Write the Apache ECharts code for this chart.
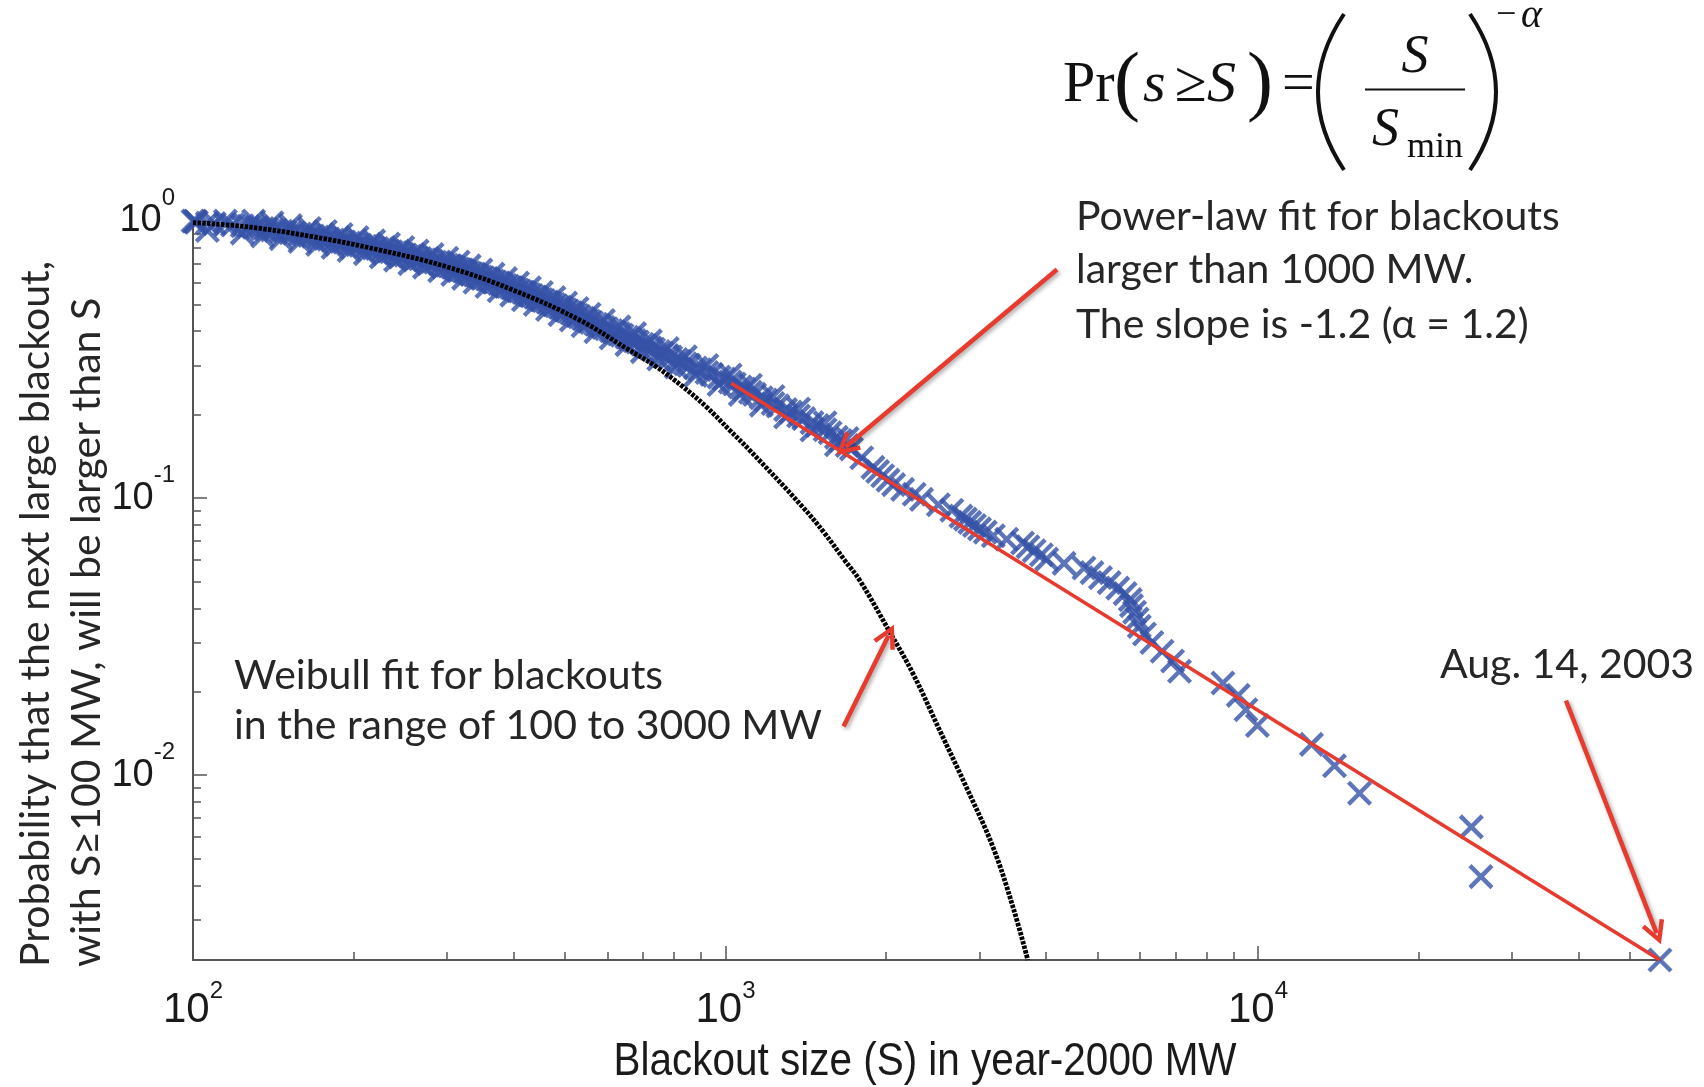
<!DOCTYPE html>
<html>
<head>
<meta charset="utf-8">
<script src="https://cdn.jsdelivr.net/npm/echarts@6/dist/echarts.min.js"></script>
<style>
html,body{margin:0;padding:0;background:#fff;}
#chart{width:1704px;height:1087px;}
</style>
</head>
<body>
<div id="chart"></div>
<script>
// ---- data ----
// blackout sizes (MW) and exceedance probability, read along the marker band
const blackoutSizeMW = [
  100, 101.5, 109.7, 118.6, 127.1, 131.9, 137.3, 142.9, 148.7, 154.8,
  161.5, 168.0, 173.7, 179.6, 185.6, 192.4, 199.0, 206.2, 213.7, 221.5,
  228.5, 235.6, 243.1, 250.7, 258.5, 267.0, 275.4, 285.0, 294.4, 303.1,
  310.2, 317.7, 325.2, 333.4, 341.8, 350.8, 360.2, 369.7, 379.9, 390.4,
  400.9, 410.9, 421.5, 432.6, 443.8, 455.8, 468.2, 481.3, 493.8, 505.6,
  518.5, 531.6, 545.6, 560.2, 578.0, 597.6, 617.8, 639.5, 661.8, 683.6,
  707.3, 732.8, 760.2, 789.0, 820.3, 853.9, 894.7, 941.2, 993.1, 1038.8,
  1084.2, 1133.6, 1189.9, 1253.8, 1325.2, 1402.4, 1487.3, 1572.0, 1643.6, 1723.7,
  1802.2, 1891.6, 1930.4, 1973.5, 2019.2, 2068.7, 2150.8, 2261.5, 2334.0, 2509.9,
  2660.8, 2767.6, 2822.0, 2876.2, 2934.0, 2999.4, 3074.2, 3183.8, 3372.9, 3612.6,
  3697.9, 3798.3, 3918.4, 4009.7, 4323.0, 4712.1, 4877.8, 5060.6, 5254.6, 5453.6,
  5628.6, 5756.7, 5786.6, 5864.6, 5928.5, 5985.1, 6121.1, 6320.3, 6605.3, 6912.0,
  7121.6, 8592, 9180, 9490, 9974, 12600, 13920, 15510, 25150, 26220,
  56870
];
const probLarger = [
  1.0, 0.9892, 0.9785, 0.9677, 0.957, 0.9462, 0.9355, 0.9247, 0.914, 0.9032,
  0.8925, 0.8817, 0.871, 0.8602, 0.8495, 0.8387, 0.828, 0.8172, 0.8065, 0.7957,
  0.7849, 0.7742, 0.7634, 0.7527, 0.7419, 0.7312, 0.7204, 0.7097, 0.6989, 0.6882,
  0.6774, 0.6667, 0.6559, 0.6452, 0.6344, 0.6237, 0.6129, 0.6022, 0.5914, 0.5806,
  0.5699, 0.5591, 0.5484, 0.5376, 0.5269, 0.5161, 0.5054, 0.4946, 0.4839, 0.4731,
  0.4624, 0.4516, 0.4409, 0.4301, 0.4194, 0.4086, 0.3978, 0.3871, 0.3763, 0.3656,
  0.3548, 0.3441, 0.3333, 0.3226, 0.3118, 0.3011, 0.2903, 0.2796, 0.2688, 0.2581,
  0.2473, 0.2366, 0.2258, 0.2151, 0.2043, 0.1935, 0.1828, 0.172, 0.1613, 0.1505,
  0.1398, 0.129, 0.1247, 0.1204, 0.1161, 0.1118, 0.1075, 0.1032, 0.0989, 0.0946,
  0.0903, 0.086, 0.0839, 0.0817, 0.0796, 0.0774, 0.0753, 0.0731, 0.071, 0.0688,
  0.0667, 0.0645, 0.0624, 0.0602, 0.0581, 0.0559, 0.0538, 0.0516, 0.0495, 0.0473,
  0.0452, 0.043, 0.0409, 0.0387, 0.0366, 0.0344, 0.0323, 0.0301, 0.028, 0.0258,
  0.0237, 0.0215, 0.0194, 0.0172, 0.0151, 0.0129, 0.0108, 0.0086, 0.0065, 0.0043,
  0.00215
];
// further readings inside the dense part of the band (centre)
const bandSizeMW = [
  100.9, 106.4, 115.0, 123.7, 130.0, 135.1, 140.7, 146.4, 152.4, 158.8,
  165.4, 171.4, 177.2, 183.2, 189.7, 196.4, 203.3, 210.7, 218.4, 225.7,
  232.8, 240.1, 247.7, 255.4, 263.6, 272.0, 281.2, 290.6, 299.6, 307.4,
  314.7, 322.2, 330.1, 338.4, 347.2, 356.4, 365.9, 375.8, 386.2, 396.7,
  406.9, 417.3, 428.2, 439.3, 451.0, 463.2, 476.1, 488.8, 500.9, 513.3,
  526.4, 540.0, 554.4, 570.9, 589.8, 609.7, 630.8, 652.9, 674.9, 697.8,
  722.6, 749.2, 777.5, 807.8, 840.5, 878.4, 922.6, 972.3, 1020.5, 1066.0,
  1113.8, 1167.4, 1228.2, 1296.6, 1371.5, 1453.3, 1538.1, 1615.0, 1691.7
];
const bandProb = [
  0.9935, 0.9828, 0.972, 0.9613, 0.9505, 0.9398, 0.929, 0.9183, 0.9075, 0.8968,
  0.886, 0.8753, 0.8645, 0.8538, 0.843, 0.8323, 0.8215, 0.8108, 0.8, 0.7892,
  0.7785, 0.7677, 0.757, 0.7462, 0.7355, 0.7247, 0.714, 0.7032, 0.6925, 0.6817,
  0.671, 0.6602, 0.6495, 0.6387, 0.628, 0.6172, 0.6065, 0.5957, 0.5849, 0.5742,
  0.5634, 0.5527, 0.5419, 0.5312, 0.5204, 0.5097, 0.4989, 0.4882, 0.4774, 0.4667,
  0.4559, 0.4452, 0.4344, 0.4237, 0.4129, 0.4022, 0.3914, 0.3806, 0.3699, 0.3591,
  0.3484, 0.3376, 0.3269, 0.3161, 0.3054, 0.2946, 0.2839, 0.2731, 0.2624, 0.2516,
  0.2409, 0.2301, 0.2194, 0.2086, 0.1978, 0.1871, 0.1763, 0.1656, 0.1548
];
// readings along the upper edge of the dense band
const bandUpperSizeMW = [
  100.9, 115.0, 130.0, 140.7, 152.4, 165.4, 177.2, 189.7, 203.3, 218.4,
  232.8, 247.7, 263.6, 281.2, 299.6, 314.7, 330.1, 347.2, 365.9, 386.2,
  406.9, 428.2, 451.0, 476.1, 500.9, 526.4, 554.4, 589.8, 630.8, 674.9,
  722.6, 777.5, 840.5, 922.6, 1020.5, 1113.8, 1228.2, 1371.5, 1538.1, 1691.7
];
const bandUpperProb = [
  1.0, 1.0, 1.0, 0.985, 0.9623, 0.9394, 0.9165, 0.8938, 0.871, 0.848,
  0.8252, 0.8025, 0.7797, 0.757, 0.7341, 0.7114, 0.6885, 0.6657, 0.643, 0.62,
  0.5972, 0.5744, 0.5517, 0.5288, 0.506, 0.4832, 0.4605, 0.4376, 0.4149, 0.392,
  0.3693, 0.3464, 0.3237, 0.3008, 0.2781, 0.2553, 0.2325, 0.2097, 0.1869, 0.1641
];
// readings along the lower edge of the dense band
const bandLowerSizeMW = [
  106.4, 123.7, 135.1, 146.4, 158.8, 171.4, 183.2, 196.4, 210.7, 225.7,
  240.1, 255.4, 272.0, 290.6, 307.4, 322.2, 338.4, 356.4, 375.8, 396.7,
  417.3, 439.3, 463.2, 488.8, 513.3, 540.0, 570.9, 609.7, 652.9, 697.8,
  749.2, 807.8, 878.4, 972.3, 1066.0, 1167.4, 1296.6, 1453.3, 1615.0
];
const bandLowerProb = [
  0.9245, 0.9042, 0.884, 0.8638, 0.8436, 0.8233, 0.8031, 0.7829, 0.7627, 0.7423,
  0.7221, 0.7019, 0.6817, 0.6614, 0.6412, 0.621, 0.6008, 0.5805, 0.5603, 0.5401,
  0.5199, 0.4996, 0.4794, 0.4592, 0.439, 0.4187, 0.3985, 0.3783, 0.358, 0.3377,
  0.3175, 0.2973, 0.2771, 0.2568, 0.2366, 0.2164, 0.1962, 0.176, 0.1557
];
const weibullSizeMW = [100, 125.9, 167.9, 224.0, 299.0, 398.8, 532.1, 651.1, 741.1, 831.6,
  920.0, 1017.4, 1109.4, 1395, 1534, 1673, 1785, 2033, 2248, 2523, 2831, 3177, 3464, 3696];
const weibullProb = [0.986, 0.9537, 0.8777, 0.7858, 0.684, 0.5636, 0.4391, 0.3471, 0.2979, 0.2522,
  0.2136, 0.176, 0.149, 0.093, 0.0747, 0.0597, 0.0506, 0.0329, 0.0233, 0.01454, 0.00907, 0.00551, 0.00335, 0.00215];
const powerLawSizeMW = [1025, 56870];
const powerLawProb = [0.2595, 0.00215];

const xTickValues = [100, 1000, 10000];
const xTickExponents = ['2', '3', '4'];
const xMinorTicks = [200, 300, 400, 500, 600, 700, 800, 900,
  2000, 3000, 4000, 5000, 6000, 7000, 8000, 9000, 20000, 30000, 40000, 50000];
const yTickValues = [0.01, 0.1, 1];
const yTickExponents = ['-2', '-1', '0'];
const yMinorTicks = [0.003, 0.004, 0.005, 0.006, 0.007, 0.008, 0.009,
  0.02, 0.03, 0.04, 0.05, 0.06, 0.07, 0.08, 0.09,
  0.2, 0.3, 0.4, 0.5, 0.6, 0.7, 0.8, 0.9];

// annotation arrows: [tail, head] in data coordinates
const arrowTails = [[4193, 0.668], [1666, 0.01497], [37870, 0.01858]];
const arrowHeads = [[1680, 0.1528], [2024, 0.03189], [56030, 0.002689]];

// ---- chart ----
const BLUE = '#3653a8';
const RED = '#e63b2e';
const AXIS = '#555555';
const TEXT = '#262626';
const CROSS = 'path://M0,0L10,10M10,0L0,10';
const CHEVRON = 'path://M5,0L10,10L8.3,10.9L5,4.0L1.7,10.9L0,10Z';

const xMin = xTickValues[0];
const xMax = blackoutSizeMW[blackoutSizeMW.length - 1];
const yMin = probLarger[probLarger.length - 1];
const yMax = yTickValues[yTickValues.length - 1];

function zip(xs, ys) { return xs.map((s, i) => [s, ys[i]]); }
const points = zip(blackoutSizeMW, probLarger)
  .concat(zip(bandSizeMW, bandProb))
  .concat(zip(bandUpperSizeMW, bandUpperProb))
  .concat(zip(bandLowerSizeMW, bandLowerProb));
const weibull = zip(weibullSizeMW, weibullProb);
const powerLaw = zip(powerLawSizeMW, powerLawProb);

function findIdx(arr, v) {
  return arr.findIndex(t => Math.abs(t - v) <= Math.abs(t) * 1e-6);
}
function xLabel(v) {
  const k = findIdx(xTickValues, v);
  return k < 0 ? '' : '{b|10}{s|' + xTickExponents[k] + '}';
}
function yLabel(v) {
  const k = findIdx(yTickValues, v);
  return k < 0 ? '' : '{b|10}{s|' + yTickExponents[k] + '}';
}

const xBase = {type: 'log', logBase: 10, min: xMin, max: xMax, position: 'bottom', gridIndex: 0,
  splitLine: {show: false}, minorTick: {show: false}};
const yBase = {type: 'log', logBase: 10, min: yMin, max: yMax, position: 'left', gridIndex: 0,
  splitLine: {show: false}, minorTick: {show: false}};

function txt(x, y, text, font, extra) {
  return {
    type: 'text', x: x, y: y, silent: true, z: 100,
    style: Object.assign({text: text, font: font, fill: TEXT,
      textAlign: 'left', textVerticalAlign: 'middle', align: 'left', verticalAlign: 'middle'}, extra || {})
  };
}
const ANN = '41px Lato';
const SERIF = '"Liberation Serif", "Times New Roman", serif';
const FY = 86; // formula main line

const chart = echarts.init(document.getElementById('chart'), null, {renderer: 'canvas'});
chart.setOption({
  animation: false,
  backgroundColor: '#ffffff',
  grid: {left: 193, right: 44, top: 221, bottom: 127, containLabel: false},
  xAxis: [
    Object.assign({}, xBase, {
      axisLine: {show: true, onZero: false, lineStyle: {color: AXIS, width: 2}},
      axisTick: {show: true, inside: true, length: 8, customValues: xMinorTicks, lineStyle: {color: AXIS, width: 1.5}},
      axisLabel: {show: false}
    }),
    Object.assign({}, xBase, {
      axisLine: {show: false, onZero: false},
      axisTick: {show: true, inside: true, length: 14, customValues: xTickValues, lineStyle: {color: AXIS, width: 1.5}},
      axisLabel: {show: true, customValues: xTickValues, formatter: xLabel, margin: 29,
        rich: {
          b: {fontSize: 42, lineHeight: 42, fontFamily: '"Liberation Sans", Arial', color: '#1a1a1a', verticalAlign: 'bottom'},
          s: {fontSize: 24, lineHeight: 24, fontFamily: '"Liberation Sans", Arial', color: '#1a1a1a', verticalAlign: 'bottom', padding: [0, 0, 28, 0]}
        }}
    })
  ],
  yAxis: [
    Object.assign({}, yBase, {
      axisLine: {show: true, onZero: false, lineStyle: {color: AXIS, width: 2}},
      axisTick: {show: true, inside: true, length: 8, customValues: yMinorTicks, lineStyle: {color: AXIS, width: 1.5}},
      axisLabel: {show: false}
    }),
    Object.assign({}, yBase, {
      axisLine: {show: false, onZero: false},
      axisTick: {show: true, inside: true, length: 14, customValues: yTickValues, lineStyle: {color: AXIS, width: 1.5}},
      axisLabel: {show: true, customValues: yTickValues, formatter: yLabel, margin: 18,
        rich: {
          b: {fontSize: 38, lineHeight: 38, fontFamily: '"Liberation Sans", Arial', color: '#1a1a1a', verticalAlign: 'bottom'},
          s: {fontSize: 24, lineHeight: 24, fontFamily: '"Liberation Sans", Arial', color: '#1a1a1a', verticalAlign: 'bottom', padding: [0, 0, 30, 0]}
        }}
    })
  ],
  series: [
    {
      type: 'scatter', name: 'blackouts', xAxisIndex: 0, yAxisIndex: 0, data: points,
      symbol: CROSS, symbolSize: 22, clip: false, z: 2,
      itemStyle: {color: 'rgba(0,0,0,0)', borderColor: BLUE, borderWidth: 4.4},
      emphasis: {disabled: true}, silent: true
    },
    {
      type: 'line', name: 'weibull', xAxisIndex: 0, yAxisIndex: 0, data: weibull,
      smooth: 0.4, showSymbol: false, symbol: 'none', z: 3, silent: true,
      lineStyle: {color: '#000000', width: 4.8, type: [3.4, 1.3], cap: 'butt'},
      emphasis: {disabled: true}
    },
    {
      type: 'line', name: 'power law', xAxisIndex: 0, yAxisIndex: 0, data: powerLaw,
      showSymbol: false, symbol: 'none', z: 4, silent: true,
      lineStyle: {color: RED, width: 3.6},
      emphasis: {disabled: true},
      markLine: {
        silent: true, animation: false, z: 5,
        symbol: ['none', CHEVRON], symbolSize: [24, 24],
        label: {show: false},
        lineStyle: {color: RED, width: 4.5, type: 'solid',
          shadowBlur: 4, shadowColor: 'rgba(0,0,0,0.35)', shadowOffsetX: 2, shadowOffsetY: 2},
        emphasis: {disabled: true},
        data: arrowTails.map((t, i) => [{coord: t}, {coord: arrowHeads[i]}])
      }
    }
  ],
  graphic: [
    // axis titles
    Object.assign(txt(925, 1062, 'Blackout size (S) in year-2000 MW', '46px "Liberation Sans", Arial',
      {textAlign: 'center', align: 'center', fill: '#1a1a1a'}), {scaleX: 0.88}),
    Object.assign(txt(36, 967, 'Probability that the next large blackout,', '41px Lato'), {rotation: Math.PI / 2}),
    Object.assign(txt(87, 967, 'with S\u2265100 MW, will be larger than S', '41px Lato'), {rotation: Math.PI / 2}),
    // annotations
    txt(1076, 217, 'Power-law fit for blackouts', ANN),
    txt(1076, 270, 'larger than 1000 MW.', ANN),
    txt(1076, 325, 'The slope is -1.2 (\u03b1 = 1.2)', ANN),
    txt(234, 676, 'Weibull fit for blackouts', ANN),
    txt(234, 726, 'in the range of 100 to 3000 MW', ANN),
    txt(1440, 665, 'Aug. 14, 2003', ANN),
    // formula
    txt(1063, FY, 'Pr', '58px ' + SERIF, {fill: '#111'}),
    txt(1114, FY, '(', '78px ' + SERIF, {fill: '#111'}),
    txt(1143, FY, 's', 'italic 58px ' + SERIF, {fill: '#111'}),
    txt(1175, FY, '\u2265', '58px ' + SERIF, {fill: '#111'}),
    txt(1207, FY, 'S', 'italic 58px ' + SERIF, {fill: '#111'}),
    txt(1247, FY, ')', '78px ' + SERIF, {fill: '#111'}),
    txt(1282, FY, '=', '58px ' + SERIF, {fill: '#111'}),
    {type: 'bezierCurve', silent: true, z: 100,
      shape: {x1: 1344, y1: 14, x2: 1344, y2: 170, cpx1: 1292, cpy1: 92},
      style: {stroke: '#111', lineWidth: 4, fill: null}},
    {type: 'bezierCurve', silent: true, z: 100,
      shape: {x1: 1470, y1: 14, x2: 1470, y2: 170, cpx1: 1522, cpy1: 92},
      style: {stroke: '#111', lineWidth: 4, fill: null}},
    txt(1415, 58, 'S', 'italic 54px ' + SERIF, {fill: '#111', textAlign: 'center', align: 'center'}),
    {type: 'line', silent: true, z: 100, shape: {x1: 1365, y1: 89.5, x2: 1465, y2: 89.5},
      style: {stroke: '#111', lineWidth: 2}},
    txt(1372, 131, 'S', 'italic 54px ' + SERIF, {fill: '#111'}),
    txt(1407, 148, 'min', '36px ' + SERIF, {fill: '#111'}),
    txt(1496, 16, '\u2212', '36px ' + SERIF, {fill: '#111'}),
    txt(1521, 16, '\u03b1', 'italic 40px ' + SERIF, {fill: '#111'})
  ]
});
</script>
</body>
</html>
